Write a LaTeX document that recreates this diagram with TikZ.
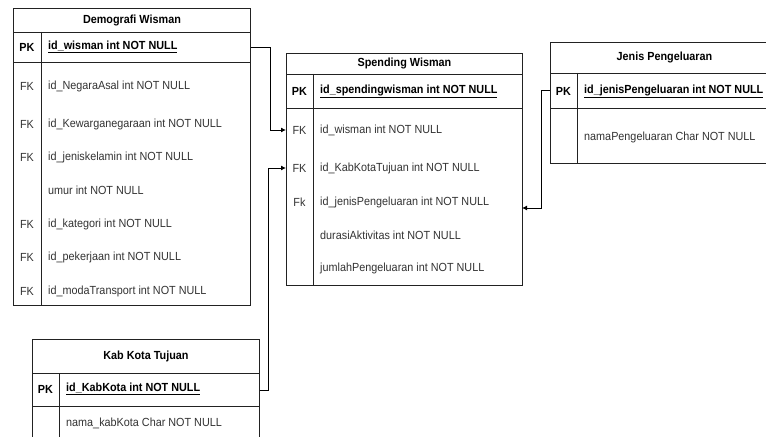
\documentclass[tikz,border=0pt]{standalone}
\usepackage{fontspec}
\setmainfont{Liberation Sans}[FakeStretch=0.92]
\usetikzlibrary{arrows.meta}
\definecolor{ink}{HTML}{222222}
\definecolor{txt}{HTML}{333333}
\tikzset{
  cell/.style={draw=ink, line width=0.9bp, fill=white, inner sep=0pt, anchor=north west},
  ttl/.style={font=\fontsize{11.8}{13}\selectfont\bfseries, text=black},
  keyc/.style={font=\fontsize{11.8}{13}\selectfont, text=txt, inner sep=0pt},
  pkey/.style={font=\fontsize{11.8}{13}\selectfont\bfseries, text=black, inner sep=0pt},
  fld/.style={font=\fontsize{11.8}{13}\selectfont, text=txt, inner sep=0pt, anchor=west},
  pfld/.style={font=\fontsize{11.8}{13}\selectfont\bfseries, text=black, inner sep=0pt, anchor=west},
  divl/.style={draw=ink, line width=0.9bp},
  rel/.style={draw=black, line width=0.9bp, -{Latex[length=5bp,width=5bp]}}
}
\newcommand{\ul}[1]{\underline{#1}}
\begin{document}
\begin{tikzpicture}[x=1bp,y=-1bp]
\useasboundingbox (0,0) rectangle (766,437);
\clip (0,0) rectangle (766,437);

% ---------- Demografi Wisman ----------
\node[cell, minimum width=237bp, minimum height=24bp] (dw-t) at (13,8) {};
\node[ttl] (dw-tt) at (dw-t.center) {Demografi Wisman};
\node[cell, minimum width=237bp, minimum height=30bp] (dw-pk) at (13,32) {};
\node[cell, minimum width=237bp, minimum height=243bp] (dw-b) at (13,62) {};
\draw[divl] (41,32) -- (41,305);
\node[pkey] (dw-k0) at (27,47) {PK};
\node[pfld] (dw-f0) at (48,47) {\ul{id\_wisman int NOT NULL}};
\node[keyc] (dw-k1) at (27,86) {FK};
\node[fld] (dw-f1) at (48,86) {id\_NegaraAsal int NOT NULL};
\node[keyc] (dw-k2) at (27,124) {FK};
\node[fld] (dw-f2) at (48,124) {id\_Kewarganegaraan int NOT NULL};
\node[keyc] (dw-k3) at (27,157) {FK};
\node[fld] (dw-f3) at (48,157) {id\_jeniskelamin int NOT NULL};
\node[fld] (dw-f4) at (48,190) {umur int NOT NULL};
\node[keyc] (dw-k5) at (27,224) {FK};
\node[fld] (dw-f5) at (48,224) {id\_kategori int NOT NULL};
\node[keyc] (dw-k6) at (27,257) {FK};
\node[fld] (dw-f6) at (48,257) {id\_pekerjaan int NOT NULL};
\node[keyc] (dw-k7) at (27,291) {FK};
\node[fld] (dw-f7) at (48,291) {id\_modaTransport int NOT NULL};

% ---------- Spending Wisman ----------
\node[cell, minimum width=236bp, minimum height=21bp] (sw-t) at (286,53) {};
\node[ttl] (sw-tt) at (sw-t.center) {Spending Wisman};
\node[cell, minimum width=236bp, minimum height=34bp] (sw-pk) at (286,74) {};
\node[cell, minimum width=236bp, minimum height=177bp] (sw-b) at (286,108) {};
\draw[divl] (313,74) -- (313,285);
\node[pkey] (sw-k0) at (299.5,91) {PK};
\node[pfld] (sw-f0) at (320,91) {\ul{id\_spendingwisman int NOT NULL}};
\node[keyc] (sw-k1) at (299.5,130) {FK};
\node[fld] (sw-f1) at (320,130) {id\_wisman int NOT NULL};
\node[keyc] (sw-k2) at (299.5,168) {FK};
\node[fld] (sw-f2) at (320,168) {id\_KabKotaTujuan int NOT NULL};
\node[keyc] (sw-k3) at (299.5,202) {Fk};
\node[fld] (sw-f3) at (320,202) {id\_jenisPengeluaran int NOT NULL};
\node[fld] (sw-f4) at (320,235) {durasiAktivitas int NOT NULL};
\node[fld] (sw-f5) at (320,268) {jumlahPengeluaran int NOT NULL};
\coordinate (sw-in3) at (522,208);

% ---------- Jenis Pengeluaran ----------
\node[cell, minimum width=228bp, minimum height=31bp] (jp-t) at (550,42) {};
\node[ttl] (jp-tt) at (jp-t.center) {Jenis Pengeluaran};
\node[cell, minimum width=228bp, minimum height=35bp] (jp-pk) at (550,73) {};
\node[cell, minimum width=228bp, minimum height=55bp] (jp-b) at (550,108) {};
\draw[divl] (577,73) -- (577,163);
\node[pkey] (jp-k0) at (563.5,91) {PK};
\node[pfld] (jp-f0) at (584,91) {\ul{id\_jenisPengeluaran int NOT NULL}};
\node[fld] (jp-f1) at (584,137) {namaPengeluaran Char NOT NULL};

% ---------- Kab Kota Tujuan ----------
\node[cell, minimum width=227bp, minimum height=34bp] (kk-t) at (32,339) {};
\node[ttl] (kk-tt) at (kk-t.center) {Kab Kota Tujuan};
\node[cell, minimum width=227bp, minimum height=33bp] (kk-pk) at (32,373) {};
\node[cell, minimum width=227bp, minimum height=60bp] (kk-b) at (32,406) {};
\draw[divl] (59,373) -- (59,470);
\node[pkey] (kk-k0) at (45.5,389) {PK};
\node[pfld] (kk-f0) at (66,389) {\ul{id\_KabKota int NOT NULL}};
\node[fld] (kk-f1) at (66,423) {nama\_kabKota Char NOT NULL};

% ---------- relations ----------
\draw[rel] (dw-pk.east) -- ++(20,0) |- (sw-b.west |- sw-k1);
\draw[rel] (kk-pk.east) -- ++(9,0) |- (sw-b.west |- sw-k2);
\draw[rel] (jp-pk.west) -- ++(-9,0) |- (sw-in3);
\end{tikzpicture}
\end{document}
